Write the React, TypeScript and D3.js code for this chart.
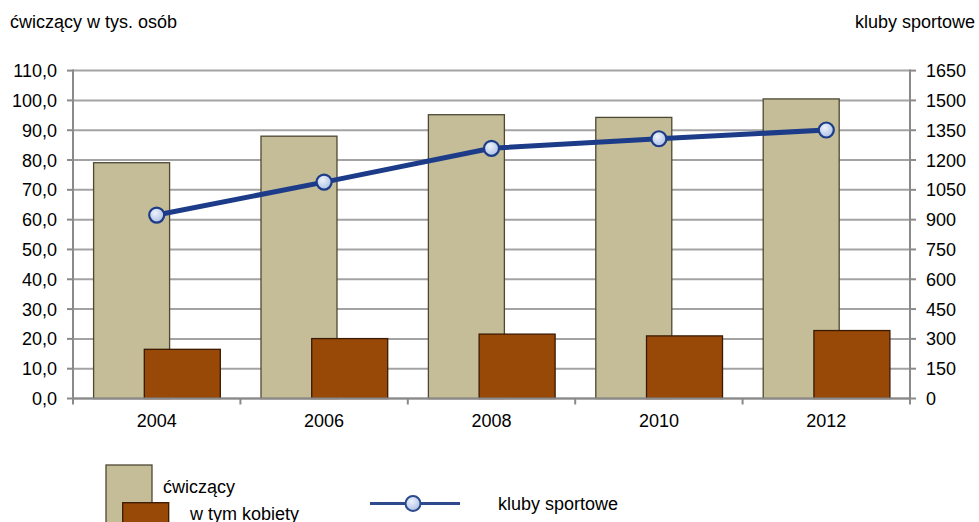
import React from 'react';
import * as d3 from 'd3';

const years = ['2004', '2006', '2008', '2010', '2012'];
const cwiczacy = [79.1, 88.0, 95.2, 94.3, 100.5];
const kobiety = [16.5, 20.1, 21.6, 21.0, 22.8];
const kluby = [923, 1089, 1259, 1307, 1351];
const leftTicks = [0, 10, 20, 30, 40, 50, 60, 70, 80, 90, 100, 110];
const rightTicks = [0, 150, 300, 450, 600, 750, 900, 1050, 1200, 1350, 1500, 1650];

const W = 979;
const H = 522;
const FONT = 'Arial, "Liberation Sans", sans-serif';
const FS = 18;

const App = () => {
    const left = 73;
    const right = 910;
    const top = 70.6;
    const bottom = 398.5;

    const x = d3.scaleBand().domain(years).range([left, right]).paddingInner(0).paddingOuter(0);
    const yL = d3.scaleLinear().domain([0, 110]).range([bottom, top]);
    const yR = d3.scaleLinear().domain([0, 1650]).range([bottom, top]);
    const bw = x.bandwidth();
    const fmt = (v: number) => v.toFixed(1).replace('.', ',');

    const line = d3.line<number>()
        .x((_, i) => x(years[i])! + bw / 2)
        .y(d => yR(d));

    return (
        <svg width={W} height={H} style={{ position: 'absolute', left: 0, top: 0 }} fontFamily={FONT}>
            <defs>
                <radialGradient id="mk" cx="40%" cy="35%" r="70%">
                    <stop offset="0%" stopColor="#eef3fb" />
                    <stop offset="100%" stopColor="#a9bde3" />
                </radialGradient>
            </defs>
            <rect width={W} height={H} fill="#fff" />

            {/* titles */}
            <text x={10} y={28} fontSize={FS} fill="#000">ćwiczący w tys. osób</text>
            <text x={975} y={28} fontSize={FS} fill="#000" textAnchor="end">kluby sportowe</text>

            {/* grid */}
            {leftTicks.map(t => (
                <line key={'g' + t} x1={left} x2={right} y1={yL(t)} y2={yL(t)} stroke="#a3a3a3" strokeWidth={2} />
            ))}

            {/* bars */}
            {years.map((yr, i) => (
                <rect key={'b' + yr}
                    x={x(yr)! + bw * 0.123}
                    width={bw * 0.454}
                    y={yL(cwiczacy[i])}
                    height={bottom - yL(cwiczacy[i])}
                    fill="#c4bd97" stroke="#4d4834" strokeWidth={1.3} />
            ))}
            {years.map((yr, i) => (
                <rect key={'k' + yr}
                    x={x(yr)! + bw * 0.426}
                    width={bw * 0.454}
                    y={yL(kobiety[i])}
                    height={bottom - yL(kobiety[i])}
                    fill="#984807" stroke="#3a1a02" strokeWidth={1.3} />
            ))}

            {/* axes */}
            <line x1={left} x2={left} y1={top - 1} y2={bottom + 1} stroke="#8a8a8a" strokeWidth={2} />
            <line x1={right} x2={right} y1={top - 1} y2={bottom + 1} stroke="#8a8a8a" strokeWidth={2} />
            <line x1={left} x2={right} y1={bottom} y2={bottom} stroke="#8a8a8a" strokeWidth={2} />
            {leftTicks.map(t => (
                <g key={'l' + t}>
                    <line x1={left - 6} x2={left} y1={yL(t)} y2={yL(t)} stroke="#8a8a8a" strokeWidth={2} />
                    <text x={57} y={yL(t)} dy="0.36em" fontSize={FS} textAnchor="end" fill="#000">{fmt(t)}</text>
                </g>
            ))}
            {rightTicks.map(t => (
                <g key={'r' + t}>
                    <line x1={right} x2={right + 6} y1={yR(t)} y2={yR(t)} stroke="#8a8a8a" strokeWidth={2} />
                    <text x={926} y={yR(t)} dy="0.36em" fontSize={FS} fill="#000">{t}</text>
                </g>
            ))}
            {[...years.map(yr => x(yr)!), right].map((v, i) => (
                <line key={'xt' + i} x1={v} x2={v} y1={bottom} y2={bottom + 6} stroke="#8a8a8a" strokeWidth={2} />
            ))}
            {years.map(yr => (
                <text key={'xl' + yr} x={x(yr)! + bw / 2} y={427} fontSize={FS} textAnchor="middle" fill="#000">{yr}</text>
            ))}

            {/* line */}
            <path d={line(kluby) ?? ''} fill="none" stroke="#1c3b88" strokeWidth={5} strokeLinejoin="round" />
            {kluby.map((v, i) => (
                <circle key={'m' + i} cx={x(years[i])! + bw / 2} cy={yR(v)} r={7.5}
                    fill="url(#mk)" stroke="#1c3b88" strokeWidth={2.2} />
            ))}

            {/* legend */}
            <rect x={106} y={465} width={46} height={70} fill="#c4bd97" stroke="#4d4834" strokeWidth={1.3} />
            <rect x={122.7} y={502.7} width={46} height={40} fill="#984807" stroke="#3a1a02" strokeWidth={1.3} />
            <text x={163} y={493} fontSize={FS} fill="#000">ćwiczący</text>
            <text x={190} y={520} fontSize={FS} fill="#000">w tym kobiety</text>
            <line x1={370} x2={460} y1={503.5} y2={503.5} stroke="#2c4a8c" strokeWidth={3} />
            <circle cx={413} cy={503.5} r={7.5} fill="url(#mk)" stroke="#2c4a8c" strokeWidth={2} />
            <text x={498} y={510} fontSize={FS} fill="#000">kluby sportowe</text>
        </svg>
    );
};

export default App;
